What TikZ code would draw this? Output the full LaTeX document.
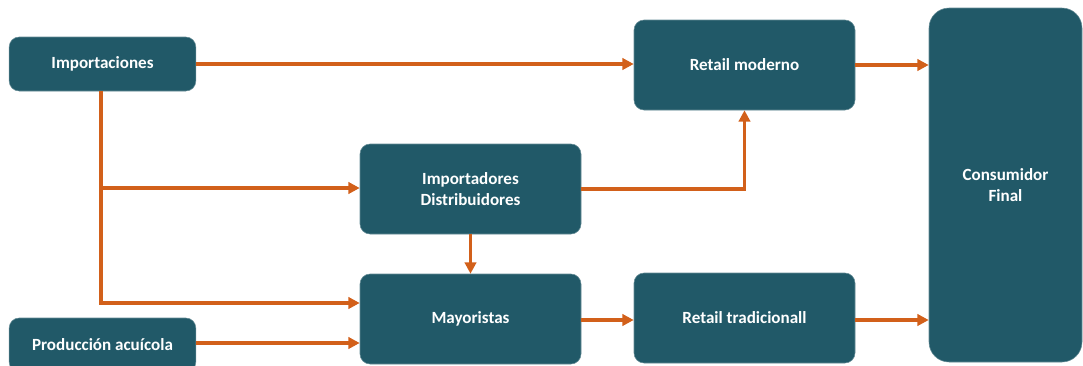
\documentclass[tikz,border=0pt]{standalone}
\usepackage{fontspec}
\setmainfont{Carlito}
\usetikzlibrary{arrows.meta}

\definecolor{caja}{HTML}{215968}
\definecolor{flecha}{HTML}{D2601A}

\begin{document}
\begin{tikzpicture}[x=0.75pt, y=-0.75pt]

    \tikzset{caja/.style={fill=caja, draw=caja!70!white, line width=0.4pt, rounded corners=7.5pt,
                          text=white, align=center, inner sep=0pt, font=\bfseries\fontsize{12.8}{16}\selectfont},
             chica/.style={caja, minimum width=140pt, minimum height=40.5pt},
             grande/.style={caja, minimum width=165.75pt, minimum height=67.5pt},
             flujo/.style={draw=flecha, line width=2.4pt, -{Triangle[length=8.5pt,width=8.5pt]}}}

    \useasboundingbox (0,0) rectangle (1083,365);
    \clip (0,0) rectangle (1083,365);

    \node[chica] (imp) at (102.5, 64) {Importaciones};
    \node[chica] (prod) at (102.5, 345) {Producción acuícola};
    \node[grande] (dist) at (470.5, 189) {Importadores\\Distribuidores};
    \node[grande] (may) at (470.5, 319) {Mayoristas};
    \node[grande] (rmod) at (744.5, 65) {Retail moderno};
    \node[grande] (rtrad) at (744.5, 318) {Retail tradicionall};
    \node[caja, rounded corners=15pt, minimum width=114.75pt, minimum height=265.5pt] (cons) at (1005.5, 185) {Consumidor\\Final};

    % puntos de quiebre
    \coordinate (q1) at (101, 188);
    \coordinate (q2) at (101, 303);

    \begin{scope}[every path/.style={flujo}]
        \draw (imp.east) -- (imp.east -| rmod.west);
        \draw (rmod.east) -- (rmod.east -| cons.west);
        \draw (imp.south -| q1) -- (q2) -- (q2 -| may.west);
        \draw (q1) -- (q1 -| dist.west);
        \draw (dist.east) -| (rmod.south);
        \draw (dist.south) -- (may.north);
        \draw (prod.east |- 0,343) -- (may.west |- 0,343);
        \draw (may.east |- 0,320) -- (rtrad.west |- 0,320);
        \draw (rtrad.east |- 0,320) -- (cons.west |- 0,320);
    \end{scope}

\end{tikzpicture}
\end{document}
